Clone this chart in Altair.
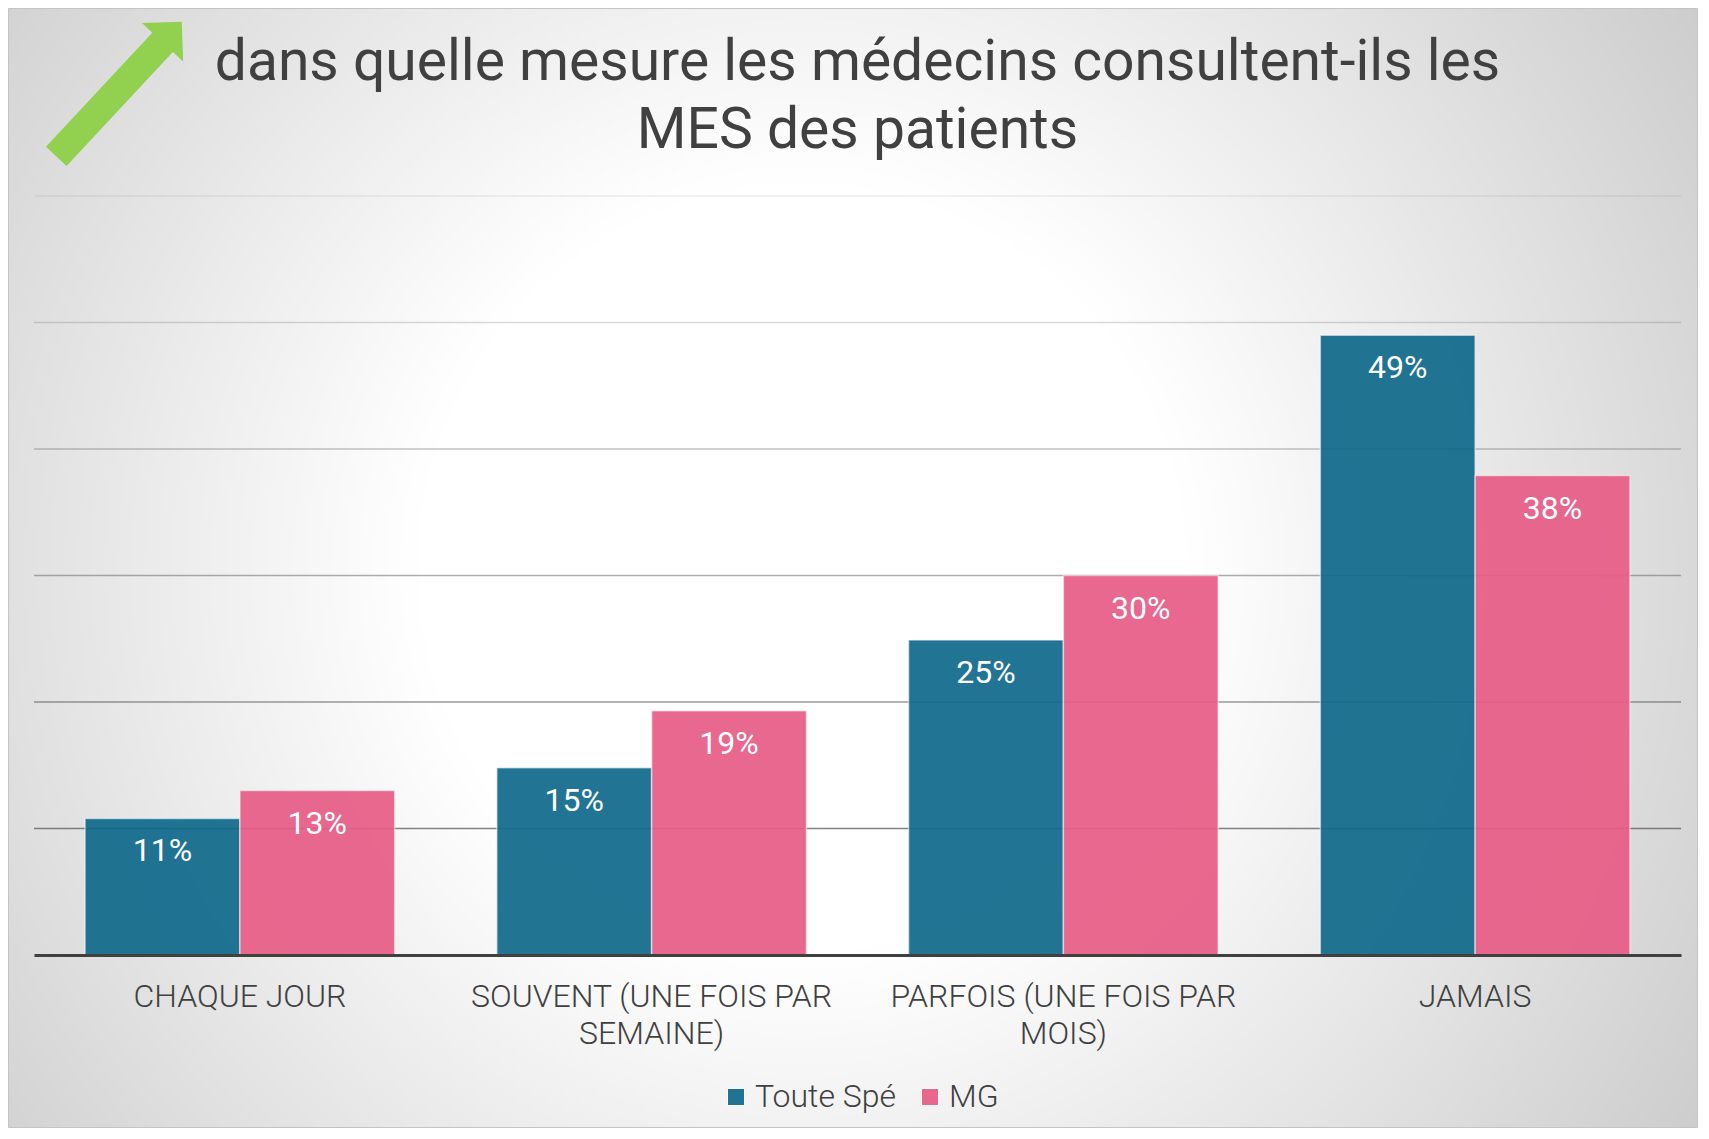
import altair as alt
import pandas as pd

# ---- data ----
categories = ["CHAQUE JOUR", "SOUVENT (UNE FOIS PAR SEMAINE)", "PARFOIS (UNE FOIS PAR MOIS)", "JAMAIS"]
series = ["Toute Spé", "MG"]
toute_spe = [10.8, 14.8, 24.9, 49.0]
mg = [13.0, 19.3, 30.0, 37.9]
grid_values = [10, 20, 30, 40, 50, 60]
colors = ["#10698b", "#e75c86"]
title_lines = ["dans quelle mesure les médecins consultent-ils les", "MES des patients"]

rows = []
for c, a, b in zip(categories, toute_spe, mg):
    rows.append({"cat": c, "serie": series[0], "val": a, "label": f"{round(a)}%"})
    rows.append({"cat": c, "serie": series[1], "val": b, "label": f"{round(b)}%"})
df = pd.DataFrame(rows)
grid_df = pd.DataFrame({"v": grid_values})
one = pd.DataFrame({"k": [0]})

W, H = 1647, 759
PL, PT, PR, PB = 26, 188, 17, 173
FONT = "Roboto"

yscale = alt.Scale(domain=[0, 60], nice=False, zero=True)

bg_gradient = {
    "gradient": "radial",
    "x1": 0.47, "y1": 0.5, "r1": 0,
    "x2": 0.47, "y2": 0.5, "r2": 0.75,
    "stops": [
        {"offset": 0, "color": "#ffffff"},
        {"offset": 0.3, "color": "#ffffff"},
        {"offset": 1, "color": "#bdbdbd"},
    ],
}

background = alt.Chart(one).mark_rect(
    fill=bg_gradient, stroke="#c4c4c4", strokeWidth=1
).encode(
    x=alt.value(-PL + 0.5), x2=alt.value(W + PR - 0.5),
    y=alt.value(-PT + 0.5), y2=alt.value(H + PB - 0.5),
)

grid = alt.Chart(grid_df).mark_rule(color="#5a5a5a", strokeWidth=1.5).encode(
    y=alt.Y("v:Q", scale=yscale, axis=None),
    strokeOpacity=alt.StrokeOpacity(
        "v:Q", scale=alt.Scale(domain=[10, 60], range=[0.75, 0.1]), legend=None
    ),
)

x_enc = alt.X(
    "cat:N",
    sort=categories,
    scale=alt.Scale(paddingInner=0.248, paddingOuter=0.124),
    axis=alt.Axis(
        title=None,
        labelExpr="split(replace(datum.label, ' PAR ', ' PAR|'), '|')",
        labelFont=FONT,
        labelFontSize=32,
        labelFontWeight=300,
        labelColor="#404040",
        labelLineHeight=37,
        labelPadding=26,
        labelAngle=0,
        labelLimit=1000,
        ticks=False,
        tickSize=0,
        domainColor="#404040",
        domainWidth=3,
        grid=False,
        zindex=1,
    ),
)
xoff = alt.XOffset("serie:N", sort=series, scale=alt.Scale(paddingInner=0, paddingOuter=0))

bars = alt.Chart(df).mark_bar(
    opacity=0.92, stroke="#ffffff", strokeWidth=1.5, strokeOpacity=0.55
).encode(
    x=x_enc,
    xOffset=xoff,
    y=alt.Y("val:Q", scale=yscale, axis=None),
    color=alt.Color(
        "serie:N",
        sort=series,
        scale=alt.Scale(domain=series, range=colors),
        legend=alt.Legend(
            title=None,
            orient="none",
            legendX=686,
            legendY=885,
            direction="horizontal",
            symbolType="square",
            symbolSize=289,
            symbolStrokeWidth=1,
            labelFont=FONT,
            labelFontSize=32,
            labelFontWeight=300,
            labelColor="#404040",
            labelOffset=3,
            columnPadding=18,
            padding=0,
            zindex=1,
        ),
    ),
)

labels = alt.Chart(df).mark_text(
    color="#ffffff", font=FONT, fontSize=32, baseline="top", dy=18
).encode(
    x=alt.X("cat:N", sort=categories),
    xOffset=xoff,
    y=alt.Y("val:Q", scale=yscale),
    text="label:N",
)

title = alt.Chart(one).mark_text(
    text=title_lines,
    font=FONT,
    fontSize=57,
    color="#404040",
    align="center",
    baseline="alphabetic",
    lineHeight=68,
).encode(x=alt.value(W / 2), y=alt.value(-116))

arrow_path = (
    "M -1 -0.153 L 0.694 -0.153 L 0.694 -0.306 L 1 0 "
    "L 0.694 0.306 L 0.694 0.153 L -1 0.153 Z"
)
arrow = alt.Chart(one).mark_point(
    shape=arrow_path, filled=True, fill="#92d050", opacity=1,
    strokeWidth=0, size=184 * 184, angle=313,
).encode(x=alt.value(85), y=alt.value(-107))

chart = (
    alt.layer(background, grid, bars, labels, title, arrow)
    .properties(
        width=W,
        height=H,
        autosize=alt.AutoSizeParams(type="none"),
        padding={"left": PL, "top": PT, "right": PR, "bottom": PB},
        background="#ffffff",
    )
    .configure_view(stroke=None)
    .configure(font=FONT)
)

chart.save("out.html", embed_options={"renderer": "svg", "actions": False})
